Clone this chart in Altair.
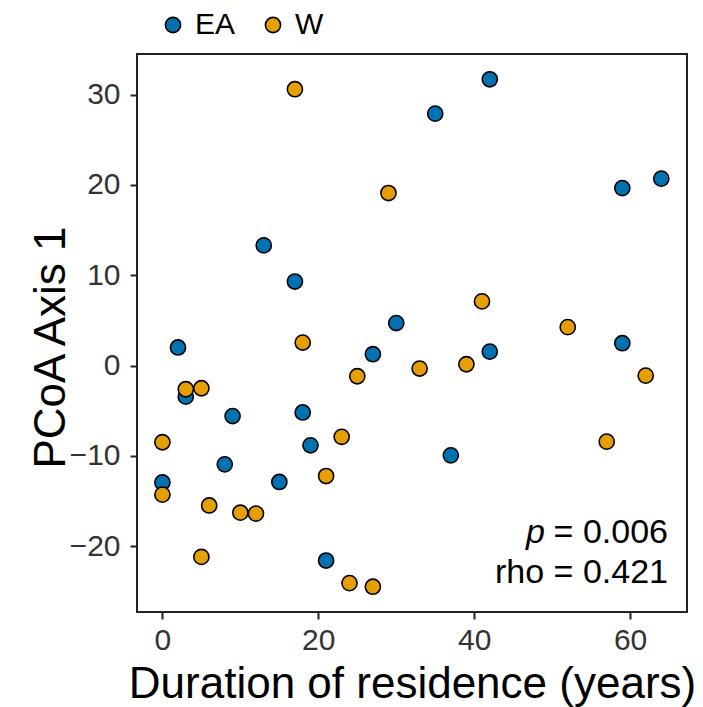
import altair as alt
import pandas as pd

# ---- data ----
ea_x = [0, 2, 3, 8, 9, 13, 15, 17, 18, 19, 21, 27, 30, 35, 37, 42, 42, 59, 59, 64]
ea_y = [-12.95, 2.0, -3.45, -10.95, -5.6, 13.3, -12.9, 9.3, -5.2, -8.84, -21.6, 1.25,
        4.7, 27.9, -9.95, 31.7, 1.54, 19.65, 2.47, 20.7]
w_x = [0, 0, 3, 5, 5, 6, 10, 12, 17, 18, 21, 23, 24, 25, 27, 29, 33, 39, 41, 52, 57, 62]
w_y = [-8.5, -14.3, -2.63, -2.52, -21.2, -15.5, -16.3, -16.4, 30.6, 2.54, -12.24, -7.9,
       -24.1, -1.19, -24.5, 19.1, -0.34, 0.14, 7.1, 4.25, -8.43, -1.12]
groups = ["EA", "W"]
group_colors = ["#0072B2", "#E69F00"]
x_ticks = [0, 20, 40, 60]
y_ticks = [-20, -10, 0, 10, 20, 30]
p_text = "p"
p_rest = "= 0.006"
rho_text = "rho = 0.421"

df = pd.DataFrame({
    "duration": ea_x + w_x,
    "pcoa": ea_y + w_y,
    "group": ["EA"] * len(ea_x) + ["W"] * len(w_x),
})

FONT = "Liberation Sans"
W, H = 550, 558

points = alt.Chart(df).mark_circle(
    size=230, stroke="black", strokeWidth=1.6, opacity=1
).encode(
    x=alt.X("duration:Q",
            scale=alt.Scale(domain=[-3.26, 67.3], nice=False, zero=False),
            axis=alt.Axis(values=x_ticks, title="Duration of residence (years)",
                          titleX=W / 2, titleY=85, titleBaseline="alphabetic",
                          labelBaseline="alphabetic", labelPadding=30)),
    y=alt.Y("pcoa:Q",
            scale=alt.Scale(domain=[-27.3, 34.5], nice=False, zero=False),
            axis=alt.Axis(values=y_ticks, title="PCoA Axis 1",
                          titleX=-73, titleY=293, titleBaseline="alphabetic",
                          titleAngle=270, labelPadding=10)),
    fill=alt.Fill("group:N",
                  scale=alt.Scale(domain=groups, range=group_colors),
                  legend=alt.Legend(title=None, orient="none", direction="horizontal",
                                    legendX=21, legendY=-44, symbolType="circle",
                                    symbolSize=230, symbolStrokeColor="black",
                                    symbolStrokeWidth=1.6, symbolOpacity=1,
                                    labelFontSize=30, labelFont=FONT, labelColor="black",
                                    labelOffset=7, columnPadding=22, padding=0)),
)

ann_p = alt.Chart(pd.DataFrame({"t": [p_text]})).mark_text(
    font=FONT, fontSize=34, fontStyle="italic", align="right", baseline="alphabetic",
    color="black"
).encode(x=alt.value(408), y=alt.value(489), text="t:N")

ann_p_rest = alt.Chart(pd.DataFrame({"t": [p_rest]})).mark_text(
    font=FONT, fontSize=34, align="right", baseline="alphabetic", color="black"
).encode(x=alt.value(531), y=alt.value(489), text="t:N")

ann_rho = alt.Chart(pd.DataFrame({"t": [rho_text]})).mark_text(
    font=FONT, fontSize=34, align="right", baseline="alphabetic", color="black"
).encode(x=alt.value(531), y=alt.value(529), text="t:N")

chart = alt.layer(points, ann_p, ann_p_rest, ann_rho).properties(
    width=W, height=H,
    background="white",
    autosize=alt.AutoSizeParams(type="none"),
    padding={"left": 137, "top": 54, "right": 16, "bottom": 95},
).configure_view(
    stroke="#222222", strokeWidth=2
).configure_axis(
    grid=False, domain=False, tickColor="#222222", tickWidth=2, tickSize=7,
    labelFont=FONT, labelFontSize=30, labelColor="#333333",
    titleFont=FONT, titleFontSize=44, titleFontWeight="normal", titleColor="black",
)

chart.save("out.html", embed_options={"renderer": "svg", "actions": False})
